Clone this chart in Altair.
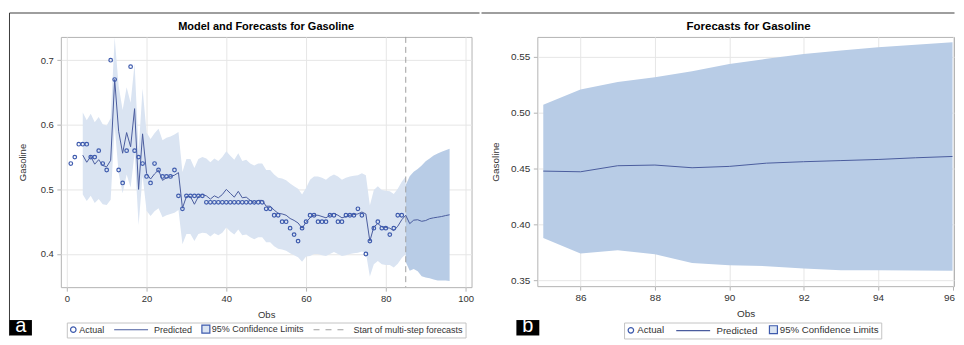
import altair as alt
import pandas as pd

# ---------------- data ----------------
actual_obs = list(range(1, 85))
actual_vals = [0.54, 0.55, 0.57, 0.57, 0.57, 0.55, 0.55, 0.56, 0.54, 0.53,
               0.70, 0.67, 0.53, 0.51, 0.56, 0.69, 0.56, 0.55, 0.54, 0.52,
               0.51, 0.54, 0.53, 0.52, 0.52, 0.52, 0.53, 0.49, 0.47, 0.49,
               0.49, 0.49, 0.49, 0.49, 0.48, 0.48, 0.48, 0.48, 0.48, 0.48,
               0.48, 0.48, 0.48, 0.48, 0.48, 0.48, 0.48, 0.48, 0.48, 0.47,
               0.47, 0.46, 0.46, 0.45, 0.45, 0.44, 0.43, 0.42, 0.44, 0.45,
               0.46, 0.46, 0.45, 0.45, 0.45, 0.46, 0.46, 0.45, 0.45, 0.46,
               0.46, 0.46, 0.47, 0.46, 0.40, 0.42, 0.44, 0.45, 0.44, 0.44,
               0.43, 0.44, 0.46, 0.46]

pred_obs = list(range(4, 86))
pred_vals = [0.553, 0.542, 0.551, 0.539, 0.546, 0.537, 0.535, 0.545, 0.670, 0.590,
             0.556, 0.588, 0.566, 0.625, 0.500, 0.586, 0.525, 0.516, 0.524, 0.530,
             0.514, 0.518, 0.520, 0.522, 0.526, 0.471, 0.489, 0.489, 0.477, 0.489,
             0.492, 0.490, 0.485, 0.490, 0.487, 0.492, 0.500, 0.494, 0.488, 0.497,
             0.487, 0.488, 0.483, 0.480, 0.483, 0.483, 0.474, 0.474, 0.468, 0.463,
             0.462, 0.460, 0.455, 0.452, 0.448, 0.440, 0.449, 0.456, 0.460, 0.460,
             0.458, 0.456, 0.460, 0.463, 0.460, 0.456, 0.458, 0.460, 0.461, 0.462,
             0.465, 0.462, 0.420, 0.442, 0.447, 0.442, 0.441, 0.440, 0.436, 0.443,
             0.453, 0.460]
pred_upper = [0.619, 0.607, 0.617, 0.604, 0.612, 0.601, 0.599, 0.610, 0.735, 0.660,
              0.623, 0.658, 0.634, 0.695, 0.560, 0.656, 0.588, 0.578, 0.587, 0.594,
              0.576, 0.580, 0.582, 0.585, 0.589, 0.527, 0.547, 0.547, 0.533, 0.547,
              0.550, 0.548, 0.542, 0.548, 0.544, 0.550, 0.559, 0.552, 0.546, 0.556,
              0.544, 0.546, 0.540, 0.537, 0.540, 0.540, 0.530, 0.530, 0.523, 0.518,
              0.517, 0.514, 0.509, 0.505, 0.501, 0.492, 0.502, 0.515, 0.520, 0.520,
              0.518, 0.515, 0.520, 0.523, 0.520, 0.515, 0.518, 0.520, 0.521, 0.522,
              0.525, 0.522, 0.475, 0.499, 0.505, 0.499, 0.498, 0.497, 0.493, 0.501,
              0.512, 0.520]
pred_lower = [0.492, 0.482, 0.490, 0.479, 0.485, 0.477, 0.476, 0.484, 0.598, 0.525,
              0.494, 0.523, 0.503, 0.556, 0.445, 0.521, 0.467, 0.459, 0.466, 0.471,
              0.457, 0.460, 0.462, 0.464, 0.468, 0.415, 0.431, 0.431, 0.420, 0.431,
              0.433, 0.432, 0.427, 0.432, 0.429, 0.433, 0.441, 0.435, 0.430, 0.438,
              0.429, 0.430, 0.426, 0.423, 0.426, 0.426, 0.418, 0.418, 0.412, 0.408,
              0.407, 0.405, 0.401, 0.398, 0.395, 0.388, 0.396, 0.397, 0.400, 0.400,
              0.398, 0.397, 0.400, 0.403, 0.400, 0.397, 0.398, 0.400, 0.401, 0.402,
              0.404, 0.402, 0.365, 0.384, 0.389, 0.384, 0.383, 0.383, 0.379, 0.385,
              0.394, 0.400]

fc_obs = list(range(85, 97))
fc_pred = [0.4476, 0.4470, 0.4524, 0.4530, 0.4506, 0.4518, 0.4547, 0.4560, 0.4570, 0.4580, 0.4595, 0.4607]
fc_upper = [0.5069, 0.5205, 0.5273, 0.5315, 0.5370, 0.5434, 0.5480, 0.5524, 0.5555, 0.5584, 0.5607, 0.5628]
fc_lower = [0.3878, 0.3739, 0.3768, 0.3733, 0.3655, 0.3635, 0.3626, 0.3605, 0.3590, 0.3590, 0.3588, 0.3584]
forecast_start = [85]

left_title = "Model and Forecasts for Gasoline"
right_title = "Forecasts for Gasoline"
x_title = "Obs"
y_title = "Gasoline"
left_x_ticks = [0, 20, 40, 60, 80, 100]
left_y_ticks = [0.4, 0.5, 0.6, 0.7]
right_x_ticks = [86, 88, 90, 92, 94, 96]
right_y_ticks = [0.35, 0.40, 0.45, 0.50, 0.55]
legend_left = ["Actual", "Predicted", "95% Confidence Limits", "Start of multi-step forecasts"]
legend_right = ["Actual", "Predicted", "95% Confidence Limits"]
panel_letters = ["a", "b"]

# ---------------- styles ----------------
FONT = "Liberation Sans"
MARK = "#3d5aad"
LINE = "#4a5c9e"
LIGHT = "#dae4f2"
DARK = "#b8cce6"
FRAME = "#b4b4b4"
GRID = "#e6e6e6"
DASH = "#a0a0a0"
TXT = "#333333"
EDGE = "#3c3c3c"

W1, H1 = 412, 251
W2, H2 = 418, 250

SYM_CIRCLE = "M0.917,0A0.917,0.917,0,1,1,-0.917,0A0.917,0.917,0,1,1,0.917,0Z"
SYM_LINE = "M-11.33,0H0"
SYM_SQUARE = "M-1.333,-1.333H1.333V1.333H-1.333Z"
SYM_DASH = "M-11.333,0H-9.333M-7.333,0H-5.333M-3.333,0H-1.333"

one = pd.DataFrame({"k": [0]})


def x_left():
    return alt.X("obs:Q", scale=alt.Scale(domain=[-1.5, 101.5], nice=False, zero=False),
                 axis=alt.Axis(values=left_x_ticks, format="d", title=x_title, titleY=27.5,
                               titleBaseline="middle", labelFlush=False))


def y_left(field):
    return alt.Y(field, type="quantitative",
                 scale=alt.Scale(domain=[0.3487, 0.736], nice=False, zero=False),
                 axis=alt.Axis(values=left_y_ticks, format=".1f", title=y_title, titleX=-38,
                               titleY=H1 / 2, titleBaseline="middle"))


def x_right():
    return alt.X("obs:Q", scale=alt.Scale(domain=[84.84, 96.04], nice=False, zero=False),
                 axis=alt.Axis(values=right_x_ticks, format="d", title=x_title, titleY=27.6,
                               titleBaseline="middle", labelFlush=3, labelFlushOffset=2,
                               labelFontSize=10, titleFontSize=10))


def y_right(field):
    return alt.Y(field, type="quantitative",
                 scale=alt.Scale(domain=[0.3447, 0.5676], nice=False, zero=False),
                 axis=alt.Axis(values=right_y_ticks, format=".2f", title=y_title, titleX=-42,
                               titleY=H2 / 2, titleBaseline="middle", labelFontSize=10,
                               titleFontSize=10))


def legend_layer(labels, lx, ly, fsize, colpad):
    shapes = [SYM_CIRCLE, SYM_LINE, SYM_SQUARE, SYM_DASH][:len(labels)]
    fills = ["white", "transparent", LIGHT, "transparent"][:len(labels)]
    strokes = [MARK, LINE, MARK, DASH][:len(labels)]
    return alt.Chart(pd.DataFrame({"lab": labels})).transform_filter("false").mark_point(
        filled=True, opacity=1, size=36
    ).encode(
        shape=alt.Shape("lab:N", scale=alt.Scale(domain=labels, range=shapes),
                        legend=alt.Legend(orient="none", legendX=lx, legendY=ly, direction="horizontal",
                                          title=None, labelFont=FONT, labelFontSize=fsize, labelColor=TXT,
                                          symbolSize=36, symbolStrokeWidth=1.2, labelOffset=1.5,
                                          columnPadding=colpad, padding=2, strokeColor="#c4c4c4",
                                          fillColor="white", symbolOpacity=1)),
        fill=alt.Fill("lab:N", scale=alt.Scale(domain=labels, range=fills)),
        stroke=alt.Stroke("lab:N", scale=alt.Scale(domain=labels, range=strokes)),
    )


def title_text(text, cx, fsize):
    return alt.Chart(pd.DataFrame({"t": [text]})).mark_text(
        font=FONT, fontSize=fsize, fontWeight="bold", color="black", align="center", baseline="middle"
    ).encode(x=alt.value(cx), y=alt.value(-10.3), text="t:N")


def letter_box(letter, x1, x2):
    box = alt.Chart(one).mark_rect(color="black").encode(
        x=alt.value(x1), x2=alt.value(x2), y=alt.value(284), y2=alt.value(299.5))
    txt = alt.Chart(pd.DataFrame({"t": [letter]})).mark_text(
        font=FONT, fontSize=20, color="white", align="center", baseline="bottom"
    ).encode(x=alt.value((x1 + x2) / 2), y=alt.value(299.5), text="t:N")
    return box + txt


# ---------------- left panel ----------------
band_df = pd.DataFrame({"obs": pred_obs, "lo": pred_lower, "hi": pred_upper})
fc_df = pd.DataFrame({"obs": fc_obs, "lo": fc_lower, "hi": fc_upper, "pred": fc_pred})
left_line_df = pd.DataFrame({"obs": pred_obs + fc_obs[1:], "pred": pred_vals + fc_pred[1:]})
actual_df = pd.DataFrame({"obs": actual_obs, "val": actual_vals})

l_band = alt.Chart(band_df).mark_area(color=LIGHT, opacity=1).encode(x=x_left(), y=y_left("lo"), y2="hi:Q")
l_fc = alt.Chart(fc_df).mark_area(color=DARK, opacity=1).encode(x=x_left(), y=y_left("lo"), y2="hi:Q")
l_rule = alt.Chart(pd.DataFrame({"obs": forecast_start})).mark_rule(
    color=DASH, strokeDash=[6, 4], strokeWidth=1).encode(x=x_left())
l_line = alt.Chart(left_line_df).mark_line(color=LINE, strokeWidth=1).encode(x=x_left(), y=y_left("pred"))
l_pts = alt.Chart(actual_df).mark_point(shape="circle", size=13, filled=False, color=MARK,
                                        strokeWidth=1.2, opacity=1).encode(x=x_left(), y=y_left("val"))
l_top = alt.Chart(one).mark_rule(color=EDGE, strokeWidth=1).encode(
    x=alt.value(-51.5), x2=alt.value(420), y=alt.value(-24))
l_side = alt.Chart(one).mark_rule(color=EDGE, strokeWidth=1).encode(
    x=alt.value(-51.5), y=alt.value(-24), y2=alt.value(299.5))

left = alt.layer(
    l_band, l_fc, l_rule, l_line, l_pts,
    legend_layer(legend_left, 6, 286.5, 9, 7),
    l_top, l_side, letter_box(panel_letters[0], -51.5, -29), title_text(left_title, 206, 11),
).properties(width=W1, height=H1)

# ---------------- right panel ----------------
r_fc = alt.Chart(fc_df).mark_area(color=DARK, opacity=1).encode(x=x_right(), y=y_right("lo"), y2="hi:Q")
r_line = alt.Chart(fc_df).mark_line(color=LINE, strokeWidth=1).encode(x=x_right(), y=y_right("pred"))
r_top = alt.Chart(one).mark_rule(color=EDGE, strokeWidth=1).encode(
    x=alt.value(-56), x2=alt.value(418.5), y=alt.value(-24))

right = alt.layer(
    r_fc, r_line,
    legend_layer(legend_right, 87, 286.5, 9.7, 8.5),
    r_top, letter_box(panel_letters[1], -21, 2), title_text(right_title, 212, 11.5),
).properties(width=W2, height=H2)

chart = alt.hconcat(left, right, spacing=0).resolve_scale(
    shape="independent", fill="independent", stroke="independent"
).properties(
    padding={"left": 0, "top": 3.5, "right": 0, "bottom": 0}, background="white"
).configure_view(
    stroke=FRAME, strokeWidth=1
).configure_axis(
    domain=False, grid=True, gridColor=GRID, gridWidth=1, tickColor=FRAME, tickSize=4, tickWidth=1,
    labelFont=FONT, labelFontSize=9.5, labelColor=TXT, titleFont=FONT, titleFontSize=9.5,
    titleFontWeight="normal", titleColor=TXT
).configure_axisX(labelPadding=2).configure_axisY(labelPadding=3.5)

chart.save("out.html", embed_options={"renderer": "svg", "actions": False})
